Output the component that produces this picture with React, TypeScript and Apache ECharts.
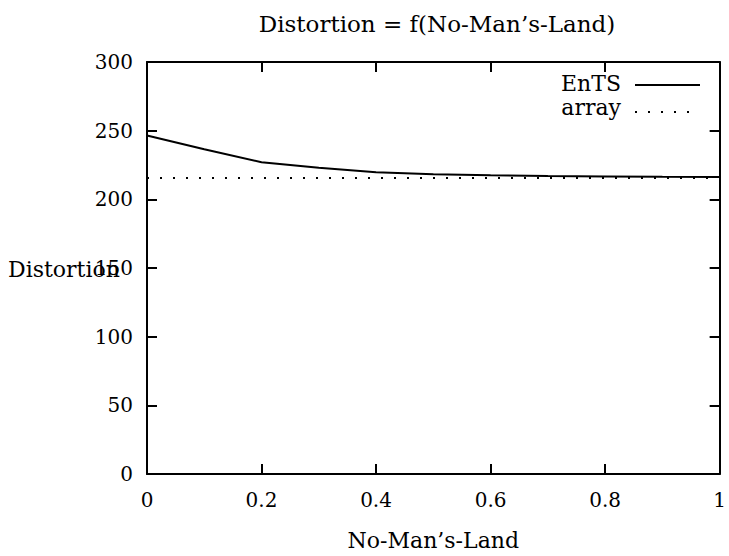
import React, { useEffect, useRef } from "react";
import * as echarts from "echarts";

const xValues = [0, 0.1, 0.2, 0.3, 0.4, 0.5, 0.6, 0.7, 0.8, 0.9, 1.0];
const entsValues = [246.5, 236.5, 227, 223, 219.8, 218.2, 217.5, 217, 216.7, 216.4, 216.2];
const arrayValues = [215.6, 215.6, 215.6, 215.6, 215.6, 215.6, 215.6, 215.6, 215.6, 215.6, 215.6];
const seriesNames = ["EnTS", "array"];
const titleText = "Distortion = f(No-Man\u2019s-Land)";
const xName = "No-Man\u2019s-Land";
const yName = "Distortion";

const FONT = "DejaVu Serif";
const FS = 20;
const FT = 22;

export default function App() {
  const ref = useRef<HTMLDivElement>(null);
  useEffect(() => {
    const chart = echarts.init(ref.current!, null, { renderer: "svg" });
    const axisLine = { show: true, onZero: false, lineStyle: { color: "#000", width: 2 } };
    const tick = { show: true, inside: true, length: 10, lineStyle: { color: "#000", width: 2 } };
    const label = { color: "#000", fontFamily: FONT, fontSize: FS };
    const txt = { fill: "#000", fontFamily: FONT, fontSize: FT };
    chart.setOption({
      animation: false,
      backgroundColor: "#fff",
      title: {
        text: titleText,
        left: 432,
        textAlign: "center",
        top: 7,
        textStyle: { color: "#000", fontFamily: FONT, fontSize: 23, fontWeight: "normal" },
      },
      grid: { left: 147, right: 4, top: 62, bottom: 76, containLabel: false },
      xAxis: [
        {
          type: "value", min: 0, max: 1, interval: 0.2,
          axisLine, axisTick: tick, splitLine: { show: false },
          axisLabel: { ...label, margin: 16, formatter: (v: number) => String(Math.round(v * 10) / 10) },
          name: xName, nameLocation: "middle", nameGap: 55,
          nameTextStyle: { color: "#000", fontFamily: FONT, fontSize: FT },
        },
        {
          type: "value", min: 0, max: 1, interval: 0.2, position: "top",
          axisLine, axisTick: tick, splitLine: { show: false }, axisLabel: { show: false },
        },
      ],
      yAxis: [
        {
          type: "value", min: 0, max: 300, interval: 50,
          axisLine, axisTick: tick, splitLine: { show: false },
          axisLabel: { ...label, margin: 14 },
        },
        {
          type: "value", min: 0, max: 300, interval: 50, position: "right",
          axisLine, axisTick: tick, splitLine: { show: false }, axisLabel: { show: false },
        },
      ],
      series: [
        {
          name: seriesNames[0], type: "line", showSymbol: false,
          data: xValues.map((x, i) => [x, entsValues[i]]),
          lineStyle: { color: "#000", width: 2 },
        },
        {
          name: seriesNames[1], type: "line", showSymbol: false,
          data: xValues.map((x, i) => [x, arrayValues[i]]),
          lineStyle: { color: "#000", width: 2, type: [2, 11] },
        },
      ],
      graphic: [
        { type: "text", left: 8, top: 258, style: { text: yName, ...txt } },
        { type: "text", right: 108, top: 72, style: { text: seriesNames[0], ...txt } },
        { type: "text", right: 108, top: 96, style: { text: seriesNames[1], ...txt } },
        { type: "line", shape: { x1: 635, y1: 85, x2: 700, y2: 85 }, style: { stroke: "#000", lineWidth: 2 } },
        { type: "line", shape: { x1: 635, y1: 112, x2: 700, y2: 112 }, style: { stroke: "#000", lineWidth: 2, lineDash: [2, 11] } },
      ],
    });
    return () => chart.dispose();
  }, []);
  return <div ref={ref} style={{ width: 729, height: 556, position: "absolute", left: 0, top: 0 }} />;
}
